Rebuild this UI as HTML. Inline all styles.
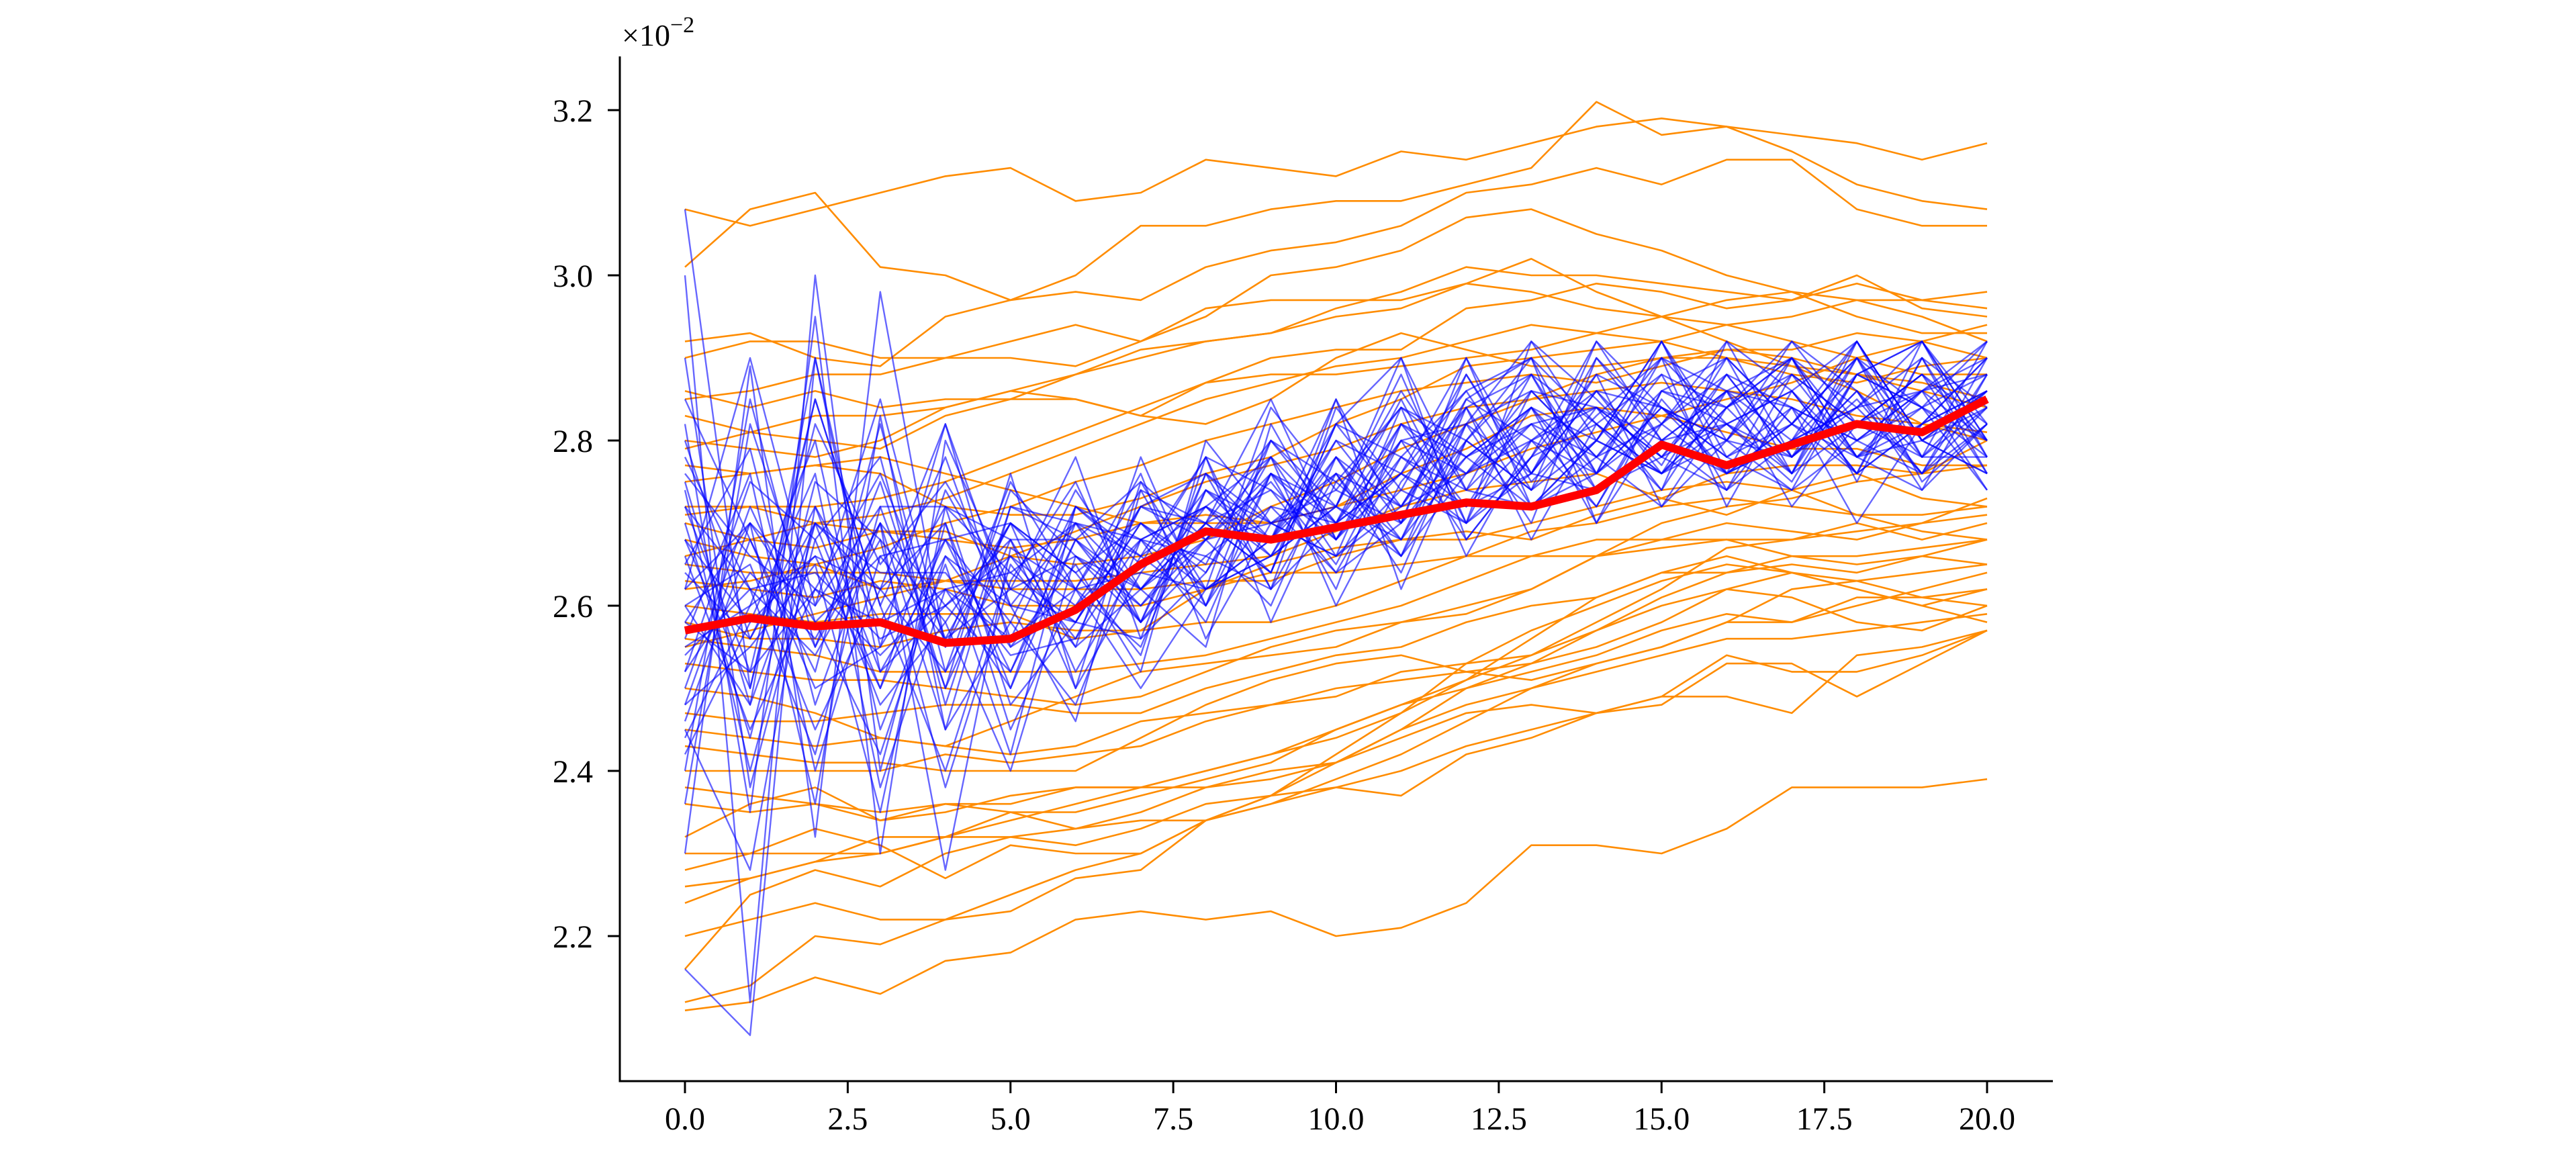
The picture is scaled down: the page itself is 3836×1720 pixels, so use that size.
<!DOCTYPE html>
<html><head><meta charset="utf-8"><style>
html,body{margin:0;padding:0;background:#fff;}
svg{display:block;font-family:"Liberation Serif",serif;}
</style></head><body>
<svg id="chart" width="3836" height="1720" viewBox="0 0 3836 1720" xmlns="http://www.w3.org/2000/svg">
<rect width="3836" height="1720" fill="#fff"/>
<g id="plot"></g>
<g id="axes"></g>
</svg>
<script>
const xSteps = [0,1,2,3,4,5,6,7,8,9,10,11,12,13,14,15,16,17,18,19,20];
const xTicks = [0,2.5,5,7.5,10,12.5,15,17.5,20];
const yTicks = [2.2,2.4,2.6,2.8,3.0,3.2];
const meanSeries = [2.57,2.585,2.575,2.58,2.555,2.56,2.595,2.65,2.69,2.68,2.695,2.71,2.725,2.72,2.74,2.795,2.77,2.795,2.82,2.81,2.85];
const orangeSeries = [
[308,306,308,310,312,313,309,310,314,313,312,315,314,316,318,319,318,317,316,314,316],
[301,308,310,301,300,297,300,306,306,308,309,309,311,313,321,317,318,315,311,309,308],
[292,293,290,289,295,297,298,297,301,303,304,306,310,311,313,311,314,314,308,306,306],
[285,286,288,288,290,292,294,292,295,300,301,303,307,308,305,303,300,298,295,293,293],
[286,284,286,284,285,285,285,283,287,290,291,291,296,297,299,298,296,297,300,296,295],
[283,281,280,279,283,285,288,290,292,293,295,296,299,302,298,295,292,289,286,282,280],
[280,279,278,280,284,286,285,283,282,285,290,293,291,289,289,290,291,291,293,292,290],
[277,276,277,276,272,271,271,273,276,278,282,285,289,290,291,292,294,295,297,297,298],
[275,276,277,278,276,274,272,270,270,270,272,274,276,279,281,283,285,287,290,292,294],
[272,272,270,269,269,266,265,266,268,272,275,279,282,285,288,290,290,289,288,287,285],
[270,268,267,269,268,267,268,270,271,270,272,276,279,283,284,283,281,279,279,277,277],
[268,266,265,262,263,263,263,264,265,266,269,272,274,275,276,273,271,274,276,273,272],
[265,264,264,264,263,262,262,262,263,263,266,268,269,268,271,273,276,277,277,276,280],
[263,262,261,263,262,260,260,260,262,265,267,268,268,270,272,274,275,274,271,269,268],
[260,259,258,259,259,259,256,257,262,264,264,265,266,266,266,268,268,266,265,266,265],
[258,256,256,255,257,258,257,257,258,258,260,263,266,269,270,272,273,272,271,271,272],
[256,255,254,252,252,252,252,253,254,256,258,260,263,266,268,268,270,269,268,270,273],
[253,252,251,251,250,249,248,249,252,255,257,258,259,262,266,267,268,268,270,268,270],
[250,249,247,244,243,246,249,252,253,254,255,258,260,262,266,270,272,273,275,276,277],
[247,246,246,247,248,248,247,247,250,252,254,255,258,260,261,264,264,266,266,267,268],
[245,244,243,244,243,242,243,246,247,248,249,252,253,254,258,262,267,268,269,270,271],
[243,242,241,241,240,240,240,244,248,251,253,254,252,251,253,255,258,262,263,264,265],
[240,240,240,240,242,241,242,243,246,248,250,251,252,253,255,258,262,264,263,261,260],
[238,237,236,235,236,235,235,237,239,241,245,248,251,254,257,260,262,261,258,257,260],
[236,235,236,234,236,236,238,238,240,242,244,247,251,256,261,264,266,264,262,260,258],
[232,236,238,234,235,237,238,238,240,242,245,248,250,252,254,257,259,258,260,262,264],
[230,230,230,230,232,234,236,238,238,239,241,245,250,253,257,261,264,265,264,266,268],
[228,230,233,231,227,231,230,230,234,237,242,247,253,257,260,263,265,264,262,260,262],
[226,227,229,230,232,232,231,233,236,237,238,240,243,245,247,249,254,252,252,254,257],
[224,227,229,232,232,235,233,234,234,236,238,237,242,244,247,248,253,253,249,253,257],
[220,222,224,222,222,223,227,228,234,236,239,242,246,250,253,255,258,258,261,261,262],
[216,225,228,226,230,232,233,235,238,240,241,245,248,250,252,254,256,256,257,258,259],
[212,214,220,219,222,225,228,230,234,237,241,244,247,248,247,249,249,247,254,255,257],
[211,212,215,213,217,218,222,223,222,223,220,221,224,231,231,230,233,238,238,238,239],
[290,292,292,290,290,290,289,292,296,297,297,297,299,298,296,295,294,292,290,288,288],
[279,281,283,283,284,286,288,291,292,293,296,298,301,300,300,299,298,297,299,297,296],
[271,272,272,273,275,278,281,284,287,288,288,289,290,291,293,295,297,298,297,295,292],
[266,268,270,271,273,276,279,282,285,287,289,290,292,294,293,292,290,288,287,289,290],
[262,263,265,267,270,272,275,277,280,282,284,286,287,288,287,289,291,290,288,286,284],
[255,257,259,261,263,266,269,272,275,277,279,282,284,285,286,287,286,285,283,282,281]
];
const blueSeries = [
[308,250,285,260,240,265,255,262,270,280,275,268,285,290,282,276,284,290,280,286,290],
[300,212,300,240,270,250,268,275,262,268,282,290,274,288,276,292,280,278,290,275,282],
[216,208,290,255,282,260,270,258,268,275,265,280,282,270,290,280,286,272,282,288,276],
[230,289,232,298,255,270,252,266,278,262,276,272,285,280,272,285,276,290,278,284,292],
[282,235,295,230,280,262,258,270,265,280,270,285,270,292,285,277,290,282,292,280,286],
[265,279,248,270,228,267,262,255,274,268,285,270,288,275,283,290,272,286,276,292,280],
[255,260,280,245,265,242,272,268,258,276,262,282,276,284,270,282,292,278,285,276,288],
[240,285,255,275,250,276,250,275,268,260,278,268,282,286,278,272,284,290,275,290,278],
[274,240,270,262,282,255,265,252,280,270,272,290,268,278,292,284,276,282,290,278,284],
[258,270,236,283,245,272,270,262,255,282,268,276,290,272,280,290,282,275,288,284,274],
[248,255,265,235,272,248,258,272,270,264,285,262,280,288,274,278,288,284,270,282,290],
[270,244,275,268,238,263,275,258,266,272,270,282,272,276,288,272,280,292,286,274,282],
[285,268,250,255,268,258,248,268,272,278,260,275,284,268,282,288,274,280,284,290,276],
[262,290,260,285,255,275,262,250,262,266,280,270,278,284,276,282,290,276,292,280,286],
[245,228,272,258,262,250,272,265,278,258,275,284,266,280,286,276,284,288,278,286,292],
[278,262,242,272,272,268,255,278,260,272,264,278,286,274,280,292,278,284,280,276,284],
[252,275,268,248,258,240,266,262,272,268,278,266,280,290,270,286,282,276,288,292,278],
[268,250,282,265,275,262,278,256,264,276,272,286,274,282,284,274,292,286,276,282,290],
[236,282,258,242,266,255,260,272,276,262,284,274,288,276,290,282,276,280,292,278,286],
[290,238,268,278,248,272,268,260,270,285,268,280,276,286,278,288,284,292,282,288,280],
[260,265,245,262,270,245,262,276,256,270,276,264,282,292,280,276,288,278,286,276,290],
[275,248,290,252,260,268,250,264,274,266,272,288,270,278,288,284,280,290,284,292,282],
[250,272,255,270,245,258,274,262,268,278,266,272,284,272,276,290,286,276,290,284,278],
[242,258,276,238,262,264,258,270,262,268,280,276,270,286,284,280,274,288,282,278,292],
[266,245,262,276,256,270,264,254,278,274,268,282,278,282,272,286,290,282,276,290,284],
[256,276,240,266,268,252,270,268,262,284,274,270,290,276,286,278,282,286,292,280,276],
[280,256,270,250,274,260,246,274,270,264,282,278,272,284,280,292,276,280,284,286,288],
[246,268,252,282,252,274,266,258,276,270,266,284,280,274,292,280,286,290,278,282,286],
[272,252,285,260,278,256,272,266,260,276,270,276,286,290,276,284,280,274,288,292,280],
[254,262,264,256,260,266,260,268,272,266,278,272,276,280,284,278,286,284,280,284,288],
[262,270,258,266,256,262,266,260,268,270,266,274,270,276,274,280,276,282,278,280,276],
[258,252,262,254,262,256,262,264,262,266,272,268,278,272,280,276,282,278,284,276,282],
[268,258,266,262,252,266,256,268,266,262,270,276,272,280,276,284,278,274,280,286,280],
[252,264,256,270,260,252,268,262,270,274,264,270,280,274,284,278,274,284,276,282,286],
[264,256,272,252,266,260,258,256,276,268,276,266,276,282,278,282,288,278,286,278,278],
[272,262,254,268,258,270,264,270,264,278,270,280,268,278,282,276,280,288,282,288,282],
[248,270,262,258,272,264,270,266,272,264,282,272,282,276,286,284,278,282,290,280,284],
[260,248,270,264,264,254,256,272,268,276,268,278,274,272,278,286,284,276,282,286,274],
[276,266,260,272,250,268,268,258,274,270,274,284,278,284,274,280,282,286,278,274,288],
[244,260,266,250,268,270,262,274,260,280,272,266,284,288,282,274,286,280,288,284,280]
];
const NS='http://www.w3.org/2000/svg';
const X0=1020, X1=2959, AX_L=923, AX_R=3057, AX_T=84, AX_B=1610;
const Y_A=2.2, Y_A_PX=1394, Y_PER=1230;
function sx(v){return X0+(X1-X0)*v/20;}
function sy(v){return Y_A_PX-(v-Y_A)*Y_PER;}
function mk(tag,attrs,parent){const e=document.createElementNS(NS,tag);for(const k in attrs)e.setAttribute(k,attrs[k]);parent.appendChild(e);return e;}
const plot=document.getElementById('plot'), axes=document.getElementById('axes');
function pts(arr,scale){return arr.map((v,i)=>sx(xSteps[i]).toFixed(1)+','+sy(v*scale).toFixed(1)).join(' ');}
orangeSeries.forEach((s,i)=>{
  const p=mk('polyline',{points:pts(s,0.01),fill:'none',stroke:'#ff8c00','stroke-width':2.6,'stroke-linejoin':'round'},plot);
  
  
});
blueSeries.forEach((s,i)=>{
  const p=mk('polyline',{points:pts(s,0.01),fill:'none',stroke:'#0000ff','stroke-width':2.4,'stroke-opacity':0.6,'stroke-linejoin':'round'},plot);
  
  
});
const m=mk('polyline',{points:pts(meanSeries,1),fill:'none',stroke:'#ff0000','stroke-width':12,'stroke-linejoin':'round'},plot);


const ls=mk('line',{x1:AX_L,y1:AX_T,x2:AX_L,y2:AX_B+1.5,stroke:'#000','stroke-width':3},axes);


const bs=mk('line',{x1:AX_L-1.5,y1:AX_B,x2:AX_R,y2:AX_B,stroke:'#000','stroke-width':3},axes);


xTicks.forEach(t=>{
  const x=sx(t);
  const tk=mk('line',{x1:x,y1:AX_B,x2:x,y2:AX_B+18,stroke:'#000','stroke-width':3},axes);
  
  
  const tx=mk('text',{x:x,y:1682,'font-size':48,'text-anchor':'middle',fill:'#000'},axes);
  tx.textContent=t.toFixed(1);
  
  
});
yTicks.forEach(t=>{
  const y=sy(t);
  const tk=mk('line',{x1:AX_L-18,y1:y,x2:AX_L,y2:y,stroke:'#000','stroke-width':3},axes);
  
  
  const tx=mk('text',{x:883,y:y+17,'font-size':48,'text-anchor':'end',fill:'#000'},axes);
  tx.textContent=t.toFixed(1);
  
  
});
const off=mk('text',{x:926,y:68,'font-size':46,fill:'#000'},axes);


off.innerHTML='×10<tspan dy="-20" font-size="34">−2</tspan>';
</script>
</body></html>
